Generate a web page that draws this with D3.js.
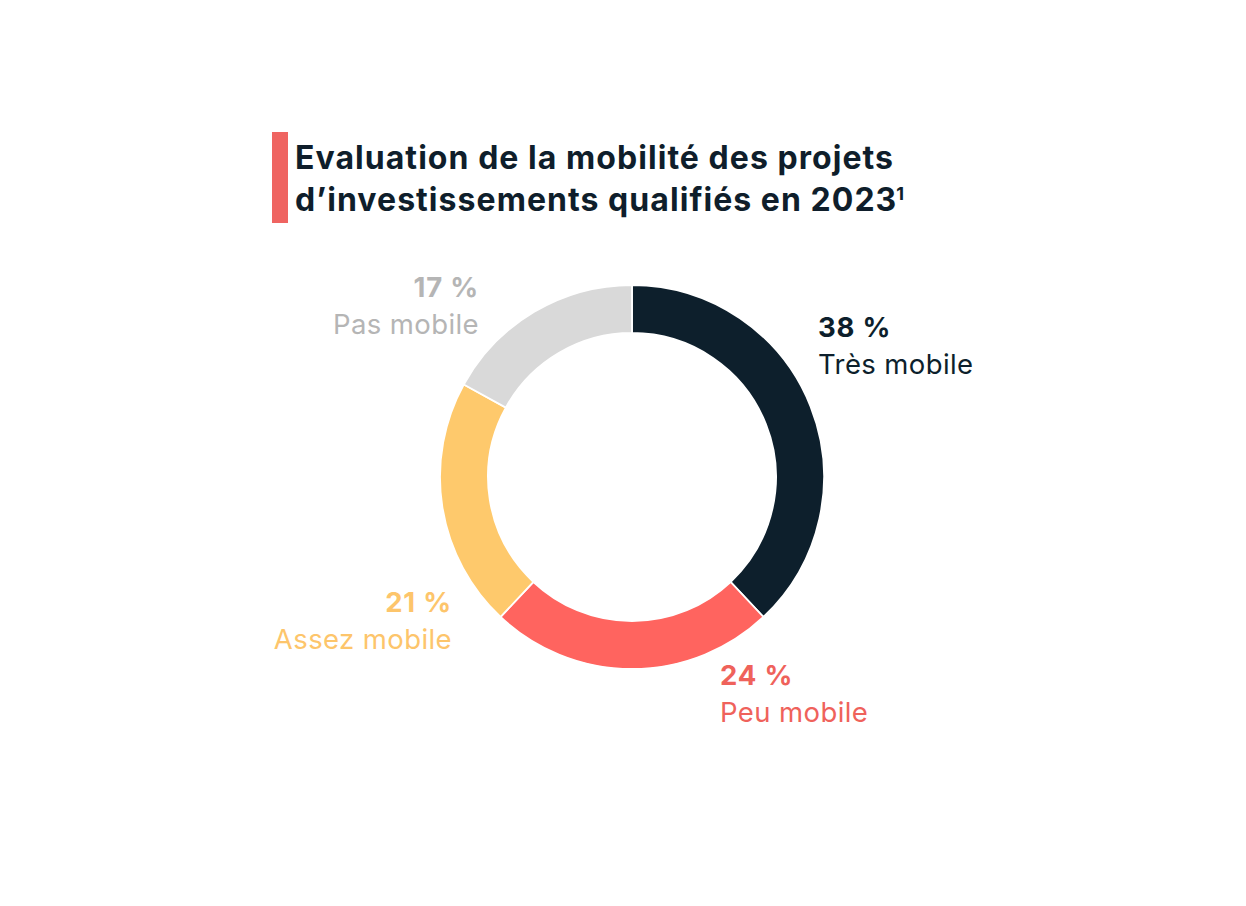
<!DOCTYPE html>
<html>
<head>
<meta charset="utf-8">
<script src="https://cdn.jsdelivr.net/npm/d3@7"></script>
<style>
  html, body { margin: 0; padding: 0; background: #ffffff; }
  svg { display: block; }
  text { font-family: Inter, "Noto Sans", sans-serif; }
</style>
</head>
<body>
<svg id="chart" width="1246" height="906"></svg>
<script>
// ---- data ----
const categories = ["Très mobile", "Peu mobile", "Assez mobile", "Pas mobile"];
const values = [38, 24, 21, 17];
const sliceColors = ["#0d1f2c", "#ff645f", "#fec96c", "#d9d9d9"];
const labelColors = ["#0d1f2c", "#ef625b", "#fdc56b", "#b5b5b5"];
const titleLines = ["Evaluation de la mobilité des projets", "d’investissements qualifiés en 2023"];
const footnote = "1";

// ---- layout ----
const W = 1246, H = 906;
const cx = 632, cy = 477, rOuter = 192, rInner = 144;
// label anchor [x, y of first baseline, anchor]
const labelPos = [
  [818, 337, "start"],
  [720, 685, "start"],
  [452, 612, "end"],
  [479, 297, "end"]
];

const svg = d3.select("#chart");

// title
svg.append("rect").attr("x", 272).attr("y", 132).attr("width", 16).attr("height", 91).attr("fill", "#ef6461");
const t = svg.append("text").attr("fill", "#0f1e2b").attr("font-weight", 700).attr("font-size", 32).attr("letter-spacing", 1.05);
t.append("tspan").attr("x", 295).attr("y", 169).text(titleLines[0]);
t.append("tspan").attr("x", 295).attr("y", 211).text(titleLines[1]);
t.append("tspan").attr("dy", -11).attr("dx", -1).attr("font-size", 18).attr("letter-spacing", 0).text(footnote);

// donut
const data = categories.map((c, i) => ({ cat: c, value: values[i], i }));
const pie = d3.pie().value(d => d.value).sort(null).startAngle(0).endAngle(2 * Math.PI);
const arc = d3.arc().innerRadius(rInner).outerRadius(rOuter);
const g = svg.append("g").attr("transform", `translate(${cx},${cy})`);
g.selectAll("path").data(pie(data)).join("path")
  .attr("d", arc)
  .attr("fill", d => sliceColors[d.data.i])
  .attr("stroke", "#ffffff")
  .attr("stroke-width", 1.8);

// labels
const fmt = v => `${v} %`;
data.forEach((d, i) => {
  const [x, y, anchor] = labelPos[i];
  const lt = svg.append("text").attr("text-anchor", anchor).attr("fill", labelColors[i]);
  lt.append("tspan").attr("x", x).attr("y", y).attr("font-weight", 700).attr("font-size", 27.5).attr("letter-spacing", 0.8).text(fmt(d.value));
  lt.append("tspan").attr("x", x).attr("y", y + 37).attr("font-weight", 400).attr("font-size", 27.5).attr("letter-spacing", 0.4).text(d.cat);
});
</script>
</body>
</html>
